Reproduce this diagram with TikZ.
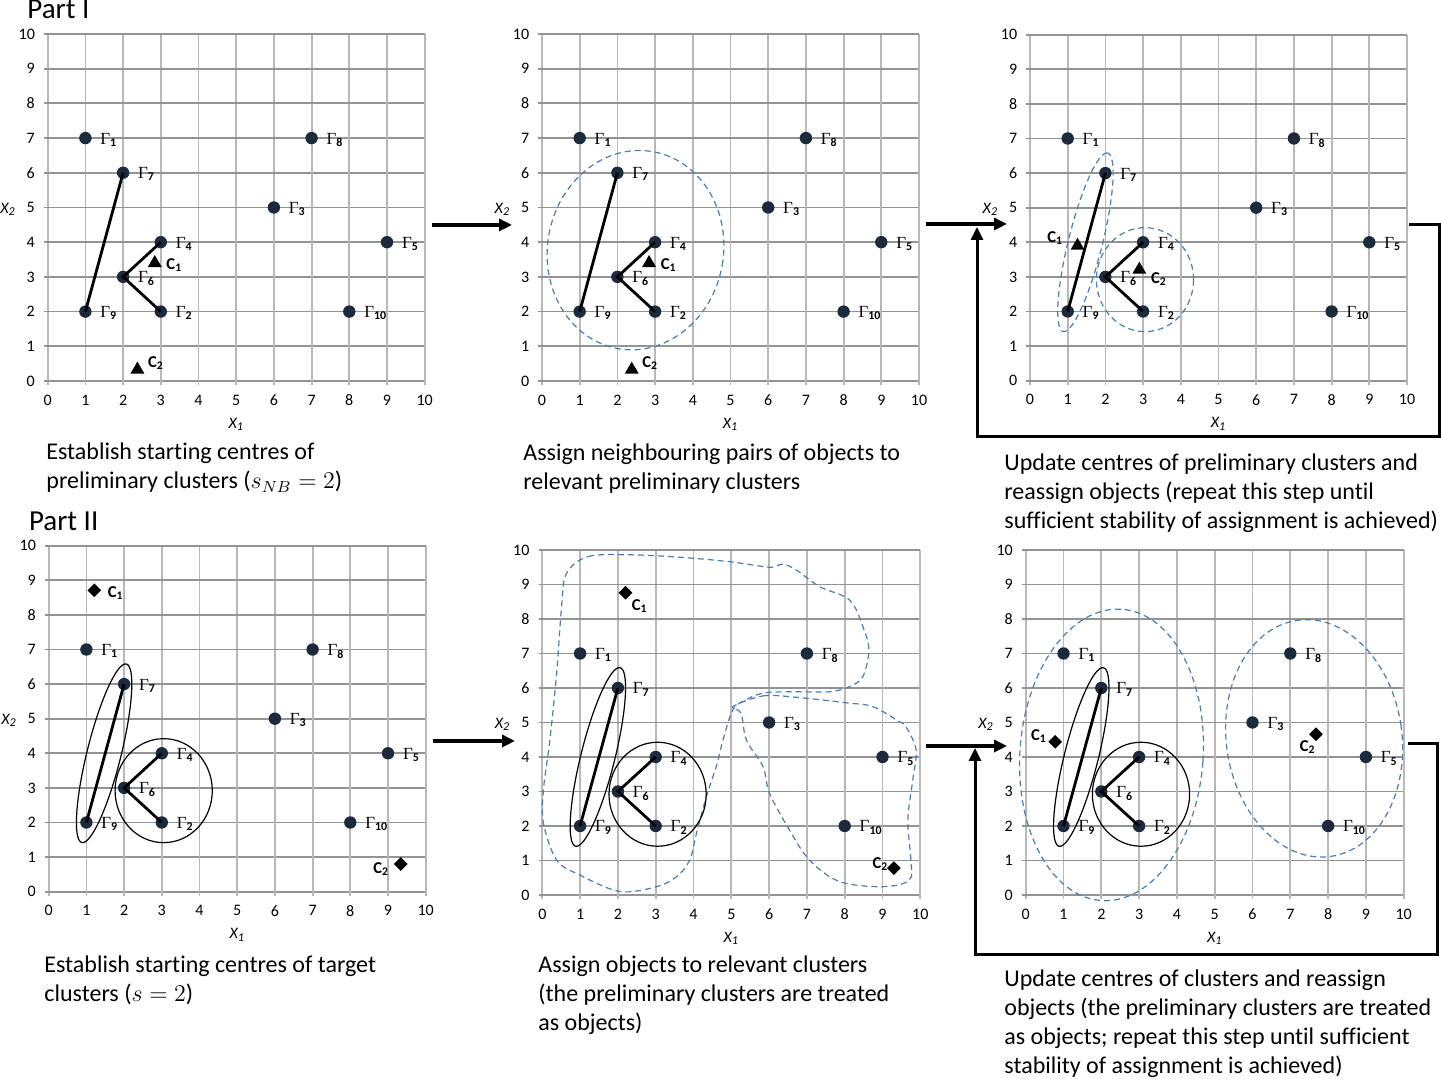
\documentclass[tikz,border=0pt]{standalone}
\usepackage{fontspec}
\setmainfont{Carlito}[Ligatures=NoCommon]
\setsansfont{Carlito}[Ligatures=NoCommon]
\newfontfamily\gfont{Liberation Serif}
\usetikzlibrary{arrows.meta,shapes.geometric,positioning}
\definecolor{ink}{HTML}{1B2A3C}
\definecolor{ring}{HTML}{4A7EB0}
\definecolor{gridh}{HTML}{939393}
\definecolor{gridv}{HTML}{B8B8B8}
\newcommand\gam[1]{{\gfont Γ}\textsubscript{\bfseries #1}}
\tikzset{hline/.style={draw=gridh,line width=.9pt},vline/.style={draw=gridv,line width=.9pt},ticklabel/.style={font=\fontsize{8}{9}\selectfont,inner sep=0pt},axislabel/.style={font=\fontsize{8}{9}\selectfont\itshape,inner sep=0pt},objdot/.style={circle,fill=ink,minimum size=6.2pt,inner sep=0pt},objlabel/.style={anchor=base west,inner sep=0pt,font=\fontsize{8.5}{10}\selectfont},pairline/.style={draw=black,line width=1.4pt},prelimring/.style={draw=ring,densely dashed,line width=.6pt},clusterring/.style={draw=black,line width=.6pt},centremark/.style={regular polygon,regular polygon sides=3,fill=black,inner sep=0pt,minimum size=8pt},targetmark/.style={diamond,fill=black,inner sep=0pt,minimum width=7pt,minimum height=7pt},ctext/.style={anchor=base west,inner sep=0pt,font=\fontsize{8.3}{10}\selectfont\bfseries},steparrow/.style={line width=2pt,-{Triangle[length=6.5pt,width=6pt]}},looparrow/.style={line width=1.5pt,-{Triangle[length=6.5pt,width=6pt]}},caption/.style={anchor=base west,align=left,inner sep=0pt,font=\fontsize{12}{14.6}\selectfont},partlabel/.style={anchor=base west,inner sep=0pt,font=\fontsize{14.5}{17}\selectfont}}
\newcommand\chartgrid{%
\foreach \i in {0,...,10}{
\draw[vline] (\i,-.12) -- (\i,10);
\draw[hline] (-.1,\i) -- (10,\i);
\node[ticklabel] (xt\i) at (\i,-.55) {\i};
\node[ticklabel,anchor=east] (yt\i) at (-.33,\i) {\i};
}
\node[axislabel] (xa) at (5,-1.25) {X\textsubscript{1}};
\node[axislabel] (ya) at (-1.05,4.95) {X\textsubscript{2}};
}
\newcommand\objects{%
\foreach \n/\x/\y in {1/1/7,2/3/2,3/6/5,4/3/4,5/9/4,6/2/3,7/2/6,8/7/7,9/1/2,10/8/2}{
\node[objdot] (g\n) at (\x,\y) {};
\node[objlabel] (l\n) at ([shift={(7.3pt,-3pt)}]g\n.center) {\gam{\n}};
}
\draw[pairline] (g9.center) -- (g7.center);
\draw[pairline] (g4.center) -- (g6.center) -- (g2.center);
}
\newcommand\pairrings[1]{%
\draw[#1,rotate around={76:(1.47,4.0)}] (1.47,4.0) ellipse[x radius=46pt,y radius=8.5pt];
\draw[#1] (3.05,2.92) ellipse[x radius=24.3pt,y radius=26pt];
}
\begin{document}
\begin{tikzpicture}[x=.5pt,y=.5pt]
\useasboundingbox (0,0) rectangle (1441,1079);
\node[partlabel] (part1) at (27,1060) {Part I};
\node[partlabel] (part2) at (28.7,548) {Part II};

\begin{scope}[shift={(47.7,698)},x=18.85pt,y=17.35pt,name prefix=p1-]
\chartgrid
\objects
\node[centremark] (c1) at (2.84,3.40) {};
\node[ctext] (c1t) at (3.14,3.2) {C\textsubscript{1}};
\node[centremark] (c2) at (2.38,0.33) {};
\node[ctext] (c2t) at (2.65,0.4) {C\textsubscript{2}};
\end{scope}

\begin{scope}[shift={(542,698)},x=18.85pt,y=17.35pt,name prefix=p2-]
\chartgrid
\draw[prelimring,rotate around={-10:(2.48,3.77)}] (2.48,3.77) ellipse[x radius=44pt,y radius=50pt];
\objects
\node[centremark] (c1) at (2.84,3.40) {};
\node[ctext] (c1t) at (3.14,3.2) {C\textsubscript{1}};
\node[centremark] (c2) at (2.38,0.33) {};
\node[ctext] (c2t) at (2.65,0.4) {C\textsubscript{2}};
\end{scope}

\begin{scope}[shift={(1030,698.3)},x=18.85pt,y=17.3pt,name prefix=p3-]
\chartgrid
\pairrings{prelimring}
\objects
\node[centremark] (c1) at (1.26,3.9) {};
\node[ctext] (c1t) at (0.45,3.99) {C\textsubscript{1}};
\node[centremark] (c2) at (2.9,3.21) {};
\node[ctext] (c2t) at (3.2,2.8) {C\textsubscript{2}};
\end{scope}

\begin{scope}[shift={(48.7,187.3)},x=18.85pt,y=17.3pt,name prefix=p4-]
\chartgrid
\pairrings{clusterring}
\objects
\node[targetmark] (c1) at (1.21,8.71) {};
\node[ctext] (c1t) at (1.56,8.51) {C\textsubscript{1}};
\node[targetmark] (c2) at (9.34,0.8) {};
\node[ctext] (c2t) at (8.6,0.54) {C\textsubscript{2}};
\end{scope}

\begin{scope}[shift={(542.3,184)},x=18.9pt,y=17.25pt,name prefix=p5-]
\chartgrid
\draw[prelimring] plot[smooth cycle,tension=.55] coordinates {(0.64,9.32) (1.21,9.81) (2.32,9.86) (3.64,9.79) (4.96,9.66) (6.01,9.5) (6.36,9.59) (6.72,9.42) (7.33,8.94) (8.13,8.55) (8.48,7.78) (8.64,7.1) (8.48,6.33) (8.13,6.04) (7.6,5.89) (6.72,5.89) (5.84,5.85) (5.22,5.56) (5.0,5.27) (4.78,4.49) (4.6,3.72) (4.34,2.85) (4.08,1.79) (3.9,1.01) (3.55,0.53) (3.02,0.24) (2.05,0.1) (0.99,0.58) (0.38,1.01) (0.03,2.08) (0.03,3.04) (0.2,4.49) (0.38,6.43) (0.51,8.36)};
\draw[prelimring] plot[smooth cycle,tension=.55] coordinates {(5.04,5.46) (5.84,5.77) (6.72,5.73) (8.04,5.57) (8.74,5.46) (9.45,5.02) (9.62,4.88) (9.89,4.2) (9.8,3.33) (9.67,2.17) (9.75,1.01) (9.71,0.43) (9.0,0.24) (7.86,0.39) (7.07,1.01) (6.54,1.88) (6.01,2.95) (5.84,3.72) (5.4,4.49) (5.26,5.27)};
\pairrings{clusterring}
\objects
\node[targetmark] (c1) at (2.2,8.76) {};
\node[ctext] (c1t) at (2.36,8.26) {C\textsubscript{1}};
\node[targetmark] (c2) at (9.3,0.78) {};
\node[ctext] (c2t) at (8.73,0.77) {C\textsubscript{2}};
\end{scope}

\begin{scope}[shift={(1025.7,184)},x=18.9pt,y=17.25pt,name prefix=p6-]
\chartgrid
\draw[prelimring,rotate around={-4:(2.27,4.06)}] (2.27,4.06) ellipse[x radius=45.8pt,y radius=73pt];
\draw[prelimring,rotate around={8:(7.63,4.54)}] (7.63,4.54) ellipse[x radius=43.9pt,y radius=59.6pt];
\pairrings{clusterring}
\objects
\node[targetmark] (c1) at (0.78,4.44) {};
\node[ctext] (c1t) at (0.13,4.49) {C\textsubscript{1}};
\node[targetmark] (c2) at (7.68,4.66) {};
\node[ctext] (c2t) at (7.24,4.15) {C\textsubscript{2}};
\end{scope}

\coordinate (s1a) at (432,854);
\coordinate (s1b) at (512,854);
\coordinate (s2a) at (926,855);
\coordinate (s2b) at (1007,855);
\coordinate (s3a) at (433,338);
\coordinate (s3b) at (515,338);
\coordinate (s4a) at (926,333);
\coordinate (s4b) at (1007,333);
\draw[steparrow] (s1a) -- (s1b);
\draw[steparrow] (s2a) -- (s2b);
\draw[steparrow] (s3a) -- (s3b);
\draw[steparrow] (s4a) -- (s4b);
\coordinate (r1a) at (1409,854);
\coordinate (r1b) at (1439,642);
\coordinate (r1c) at (977,852);
\coordinate (r2a) at (1408,335);
\coordinate (r2b) at (1437,124);
\coordinate (r2c) at (975,331);
\draw[looparrow] (r1a) -| (r1b) -| (r1c);
\draw[looparrow] (r2a) -| (r2b) -| (r2c);

\node[caption] (cap1) at (46,590) {Establish starting centres of\\preliminary clusters ($s_{NB}=2$)};
\node[caption] (cap2) at (523,589) {Assign neighbouring pairs of objects to\\relevant preliminary clusters};
\node[caption] (cap3) at (1004,550) {Update centres of preliminary clusters and\\reassign objects (repeat this step until\\sufficient stability of assignment is achieved)};
\node[caption] (cap4) at (44,77) {Establish starting centres of target\\clusters ($s=2$)};
\node[caption] (cap5) at (538,48) {Assign objects to relevant clusters\\(the preliminary clusters are treated\\as objects)};
\node[caption] (cap6) at (1004,5) {Update centres of clusters and reassign\\objects (the preliminary clusters are treated\\as objects; repeat this step until sufficient\\stability of assignment is achieved)};
\end{tikzpicture}
\end{document}
